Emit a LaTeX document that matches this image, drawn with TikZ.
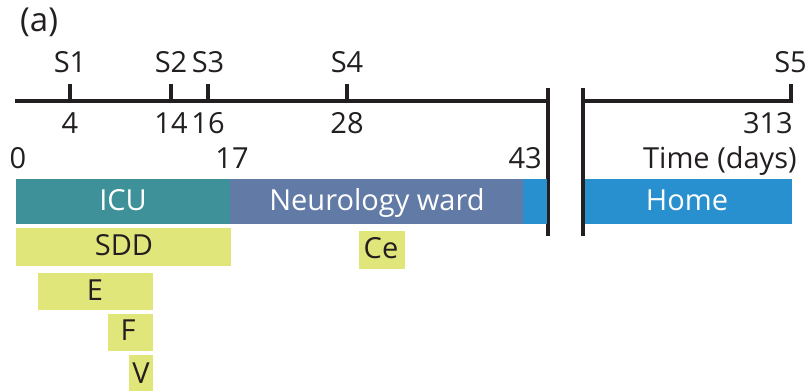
\documentclass[tikz,border=0pt]{standalone}
\usepackage{fontspec}
\setmainfont{Open Sans}
\definecolor{icu}{HTML}{3F9199}
\definecolor{neuro}{HTML}{627AA6}
\definecolor{homeblue}{HTML}{2990D0}
\definecolor{drug}{HTML}{E1E67A}
\definecolor{axis}{HTML}{231F20}
\begin{document}
\begin{tikzpicture}[x=1pt,y=-1pt,
  lbl/.style={inner sep=0pt, anchor=base, font=\fontsize{29}{32}\selectfont, text=axis},
  wlbl/.style={lbl, text=white},
  axisline/.style={draw=axis, line width=4pt},
  tick/.style={draw=axis, line width=4pt}]
\useasboundingbox (0,0) rectangle (809,391);
% label
\node[lbl, anchor=base west, font=\fontsize{33}{36}\selectfont] (a) at (20,31) {(a)};
% axis
\draw[axisline] (15,101) -- (548,101);
\draw[axisline] (548,88) -- (548,236);
\draw[axisline] (583,88) -- (583,236);
\draw[axisline] (583,101) -- (791,101);
\draw[tick] (791,103) -- (791,84);
\foreach \x/\s/\n in {70/S1/4, 171/S2/14, 208/S3/16, 347/S4/28}{
  \draw[tick] (\x,101) -- (\x,84);
  \node[lbl] (s\n) at (\x,72) {\s};
  \node[lbl] (d\n) at (\x,133) {\n};
}
\node[lbl, anchor=base east] (s5) at (807,72) {S5};
\node[lbl, anchor=base east] (d313) at (793,133) {313};
\node[lbl] (d0) at (18,168) {0};
\node[lbl] (d17) at (232,168) {17};
\node[lbl, anchor=base east] (d43) at (542,168) {43};
\node[lbl, anchor=base east] (time) at (797,168) {Time (days)};
% location bars
\fill[icu] (16,179) rectangle (230,224);
\fill[neuro] (230,179) rectangle (523,224);
\fill[homeblue] (523,179) rectangle (547,224);
\fill[homeblue] (585,179) rectangle (792,224);
\node[wlbl] (icu) at (123,210) {ICU};
\node[wlbl] (neuro) at (377,210) {Neurology ward};
\node[wlbl] (home) at (687,210) {Home};
% drug bars
\fill[drug] (16,228) rectangle (231,266);
\fill[drug] (38,273) rectangle (153,310);
\fill[drug] (108,314) rectangle (153,351);
\fill[drug] (129,355) rectangle (153,391);
\fill[drug] (359,231) rectangle (405,269);
\node[lbl] (sdd) at (124,255) {SDD};
\node[lbl] (e) at (95,300) {E};
\node[lbl] (f) at (128,340) {F};
\node[lbl] (v) at (141,383) {V};
\node[lbl] (ce) at (381,258) {Ce};
\end{tikzpicture}
\end{document}
